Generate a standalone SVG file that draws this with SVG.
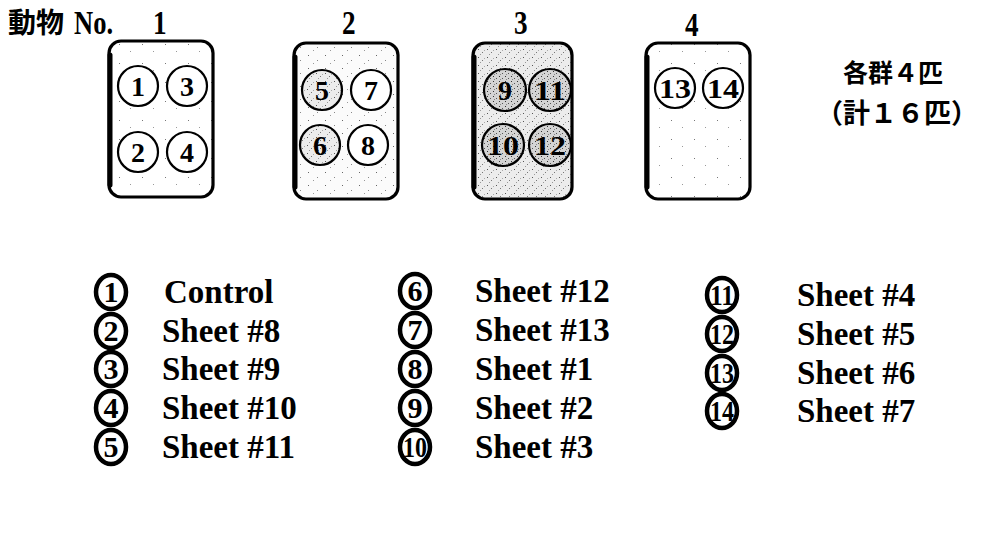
<svg xmlns="http://www.w3.org/2000/svg" width="988" height="539" viewBox="0 0 988 539">
<style>
.box{stroke:#000;stroke-width:3.2}
.edge{stroke:#000;stroke-width:5;fill:none;stroke-linecap:round}
.c{stroke:#000;stroke-width:2.2}
.n{font-family:"Liberation Serif","Times New Roman",serif;font-weight:bold;font-size:28px;text-anchor:middle;fill:#000}
.hd{font-family:"Liberation Serif","Times New Roman",serif;font-weight:bold;font-size:34px;fill:#000}
.cjk{font-family:"Noto Sans CJK JP","Noto Sans CJK SC",sans-serif;font-weight:bold;fill:#000}
.lc{fill:#fff;stroke:#000;stroke-width:4.5}
.ln{font-family:"Liberation Serif","Times New Roman",serif;font-weight:bold;font-size:30px;text-anchor:middle;fill:#000}
.lt{font-family:"Liberation Serif","Times New Roman",serif;font-weight:bold;font-size:33px;fill:#000}
</style>
<defs>
<pattern id="sp1" width="23" height="19" patternUnits="userSpaceOnUse">
<rect width="23" height="19" fill="#fff"/>
<rect x="4" y="6" width="1" height="1" fill="#777"/>
<rect x="15" y="13" width="1" height="1" fill="#999"/>
</pattern>
<pattern id="sp2" width="17" height="13" patternUnits="userSpaceOnUse">
<rect width="17" height="13" fill="#fbfbfb"/>
<rect x="2" y="3" width="1" height="1" fill="#666"/>
<rect x="11" y="8" width="1" height="1" fill="#888"/>
<rect x="7" y="11" width="1" height="1" fill="#999"/>
</pattern>
<pattern id="sp3" width="9" height="8" patternUnits="userSpaceOnUse">
<rect width="9" height="8" fill="#ececec"/>
<rect x="1" y="1" width="1" height="1" fill="#555"/>
<rect x="5" y="4" width="1" height="1" fill="#777"/>
<rect x="3" y="6" width="1" height="1" fill="#999"/>
<rect x="7" y="2" width="1" height="1" fill="#aaa"/>
</pattern>
<pattern id="sp3c" width="6" height="5" patternUnits="userSpaceOnUse">
<rect width="6" height="5" fill="#d4d4d4"/>
<rect x="1" y="1" width="1" height="1" fill="#333"/>
<rect x="4" y="3" width="1" height="1" fill="#555"/>
<rect x="2" y="4" width="1" height="1" fill="#888"/>
</pattern>
</defs>
<rect width="988" height="539" fill="#fff"/>

<g id="header">
<text class="cjk" x="8" y="33" font-size="28">動物</text>
<text class="hd" x="0" y="0" transform="translate(74,34) scale(0.78,1)">No.</text>
<text class="hd" x="0" y="0" transform="translate(153,34) scale(0.8,1)">1</text>
<text class="hd" x="0" y="0" transform="translate(342,34) scale(0.8,1)">2</text>
<text class="hd" x="0" y="0" transform="translate(514,34) scale(0.8,1)">3</text>
<text class="hd" x="0" y="0" transform="translate(685,36) scale(0.8,1)">4</text>
</g>

<g id="cage1">
<rect class="box" x="109" y="41" width="104" height="156" rx="12" fill="url(#sp1)"/>
<path class="edge" d="M110,55 V185"/>
<circle class="c" cx="138" cy="86" r="20" fill="#fff"/>
<circle class="c" cx="187" cy="86" r="20" fill="#fff"/>
<circle class="c" cx="138" cy="152" r="20" fill="#fff"/>
<circle class="c" cx="187" cy="152" r="20" fill="#fff"/>
<text class="n" x="138" y="96">1</text>
<text class="n" x="187" y="96">3</text>
<text class="n" x="138" y="162">2</text>
<text class="n" x="187" y="162">4</text>
</g>

<g id="cage2">
<rect class="box" x="294" y="43" width="104" height="156" rx="12" fill="url(#sp2)"/>
<path class="edge" d="M295,57 V187"/>
<circle class="c" cx="322" cy="90" r="20" fill="url(#sp3)"/>
<circle class="c" cx="371" cy="90" r="20" fill="#fff"/>
<circle class="c" cx="320" cy="145" r="20" fill="url(#sp3)"/>
<circle class="c" cx="368" cy="145" r="20" fill="#fff"/>
<text class="n" x="322" y="100">5</text>
<text class="n" x="371" y="100">7</text>
<text class="n" x="320" y="155">6</text>
<text class="n" x="368" y="155">8</text>
</g>

<g id="cage3">
<rect class="box" x="473" y="43" width="99" height="156" rx="12" fill="url(#sp3)"/>
<path class="edge" d="M474,57 V187"/>
<circle class="c" cx="505" cy="90" r="21" fill="url(#sp3c)"/>
<circle class="c" cx="550" cy="90" r="21" fill="url(#sp3c)"/>
<circle class="c" cx="503" cy="145" r="21" fill="url(#sp3c)"/>
<circle class="c" cx="550" cy="145" r="21" fill="url(#sp3c)"/>
<text class="n" x="505" y="100">9</text>
<text class="n" x="550" y="100" textLength="32" lengthAdjust="spacingAndGlyphs">11</text>
<text class="n" x="503" y="155" textLength="32" lengthAdjust="spacingAndGlyphs">10</text>
<text class="n" x="550" y="155" textLength="32" lengthAdjust="spacingAndGlyphs">12</text>
</g>

<g id="cage4">
<rect class="box" x="646" y="43" width="104" height="156" rx="12" fill="url(#sp1)"/>
<path class="edge" d="M647,57 V187"/>
<circle class="c" cx="675" cy="88" r="20" fill="#fff"/>
<circle class="c" cx="723" cy="88" r="20" fill="#fff"/>
<text class="n" x="675" y="98" textLength="32" lengthAdjust="spacingAndGlyphs">13</text>
<text class="n" x="723" y="98" textLength="32" lengthAdjust="spacingAndGlyphs">14</text>
</g>

<g id="note">
<text class="cjk" x="843" y="82" font-size="25">各群４匹</text>
<text class="cjk" x="816" y="123" font-size="27">（計１６匹）</text>
</g>

<g id="legend1">
<ellipse class="lc" cx="111" cy="292" rx="15" ry="17"/><text class="ln" x="111" y="302">1</text>
<text class="lt" x="164" y="303">Control</text>
<ellipse class="lc" cx="111" cy="331" rx="15" ry="17"/><text class="ln" x="111" y="341">2</text>
<text class="lt" x="162" y="342">Sheet #8</text>
<ellipse class="lc" cx="111" cy="369" rx="15" ry="17"/><text class="ln" x="111" y="379">3</text>
<text class="lt" x="162" y="380">Sheet #9</text>
<ellipse class="lc" cx="111" cy="408" rx="15" ry="17"/><text class="ln" x="111" y="418">4</text>
<text class="lt" x="162" y="419">Sheet #10</text>
<ellipse class="lc" cx="111" cy="447" rx="15" ry="17"/><text class="ln" x="111" y="457">5</text>
<text class="lt" x="162" y="458">Sheet #11</text>
</g>

<g id="legend2">
<ellipse class="lc" cx="415" cy="291" rx="15" ry="17"/><text class="ln" x="415" y="301">6</text>
<text class="lt" x="475" y="302">Sheet #12</text>
<ellipse class="lc" cx="415" cy="330" rx="15" ry="17"/><text class="ln" x="415" y="340">7</text>
<text class="lt" x="475" y="341">Sheet #13</text>
<ellipse class="lc" cx="415" cy="369" rx="15" ry="17"/><text class="ln" x="415" y="379">8</text>
<text class="lt" x="475" y="380">Sheet #1</text>
<ellipse class="lc" cx="415" cy="408" rx="15" ry="17"/><text class="ln" x="415" y="418">9</text>
<text class="lt" x="475" y="419">Sheet #2</text>
<ellipse class="lc" cx="415" cy="447" rx="15" ry="17"/><text class="ln" x="415" y="457" textLength="24" lengthAdjust="spacingAndGlyphs">10</text>
<text class="lt" x="475" y="458">Sheet #3</text>
</g>

<g id="legend3">
<ellipse class="lc" cx="722" cy="295" rx="15" ry="17"/><text class="ln" x="722" y="305" textLength="24" lengthAdjust="spacingAndGlyphs">11</text>
<text class="lt" x="797" y="306">Sheet #4</text>
<ellipse class="lc" cx="722" cy="334" rx="15" ry="17"/><text class="ln" x="722" y="344" textLength="24" lengthAdjust="spacingAndGlyphs">12</text>
<text class="lt" x="797" y="345">Sheet #5</text>
<ellipse class="lc" cx="722" cy="373" rx="15" ry="17"/><text class="ln" x="722" y="383" textLength="24" lengthAdjust="spacingAndGlyphs">13</text>
<text class="lt" x="797" y="384">Sheet #6</text>
<ellipse class="lc" cx="722" cy="411" rx="15" ry="17"/><text class="ln" x="722" y="421" textLength="24" lengthAdjust="spacingAndGlyphs">14</text>
<text class="lt" x="797" y="422">Sheet #7</text>
</g>
</svg>
